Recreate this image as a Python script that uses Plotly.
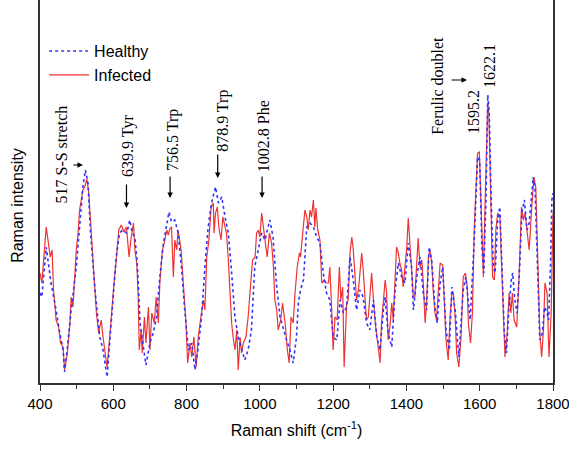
import plotly.graph_objects as go

# Infected (red, solid)
wn_infected = [400, 405, 417, 424, 428, 433, 437, 444, 451, 456, 463, 467, 474, 481, 485, 490, 495, 499, 504, 508,
               517, 522, 528, 533, 540, 547, 554, 560, 567, 572, 577, 583, 588, 595, 602, 608, 615, 622, 629, 636,
               639, 643, 648, 655, 659, 664, 668, 671, 676, 679, 685, 689, 696, 700, 705, 712, 717, 723, 727, 734,
               739, 746, 750, 755, 759, 764, 768, 773, 777, 785, 791, 798, 803, 809, 814, 820, 826, 832, 839, 846,
               850, 855, 861, 867, 873, 875, 879, 884, 888, 894, 899, 903, 909, 914, 919, 923, 928, 932, 937, 941,
               946, 950, 955, 962, 968, 975, 980, 987, 991, 996, 1000, 1005, 1009, 1014, 1020, 1026, 1032, 1037,
               1041, 1046, 1050, 1057, 1062, 1069, 1075, 1080, 1085, 1091, 1096, 1102, 1108, 1111, 1116, 1123,
               1128, 1132, 1137, 1141, 1146, 1150, 1153, 1158, 1164, 1169, 1176, 1180, 1187, 1191, 1196, 1200,
               1205, 1211, 1217, 1221, 1226, 1230, 1237, 1241, 1246, 1251, 1255, 1260, 1264, 1269, 1278, 1282,
               1287, 1291, 1296, 1301, 1305, 1310, 1316, 1323, 1328, 1332, 1337, 1342, 1346, 1350, 1355, 1360,
               1364, 1369, 1373, 1378, 1382, 1387, 1391, 1396, 1401, 1405, 1410, 1414, 1419, 1423, 1428, 1432,
               1437, 1442, 1446, 1451, 1455, 1460, 1464, 1469, 1473, 1478, 1482, 1487, 1492, 1499, 1503, 1508,
               1514, 1519, 1524, 1528, 1533, 1537, 1543, 1549, 1555, 1561, 1566, 1569, 1575, 1580, 1585, 1590,
               1594, 1599, 1603, 1610, 1614, 1619, 1622, 1625, 1630, 1635, 1640, 1644, 1649, 1655, 1660, 1664,
               1669, 1675, 1680, 1685, 1689, 1694, 1701, 1707, 1714, 1719, 1724, 1731, 1735, 1742, 1748, 1753,
               1758, 1764, 1769, 1774, 1778, 1784, 1789, 1795, 1800]
int_infected = [110, 100, 156, 136, 126, 133, 93, 63, 56, 40, 36, 13, 28, 56, 86, 76, 113, 133, 150, 173,
                193, 196, 204, 190, 150, 106, 70, 50, 63, 46, 33, 16, 36, 73, 100, 123, 153, 158, 151, 156,
                146, 126, 143, 160, 133, 120, 86, 33, 53, 30, 66, 40, 76, 33, 70, 60, 86, 60, 100, 133,
                140, 153, 148, 155, 156, 106, 143, 133, 153, 133, 100, 63, 20, 40, 26, 46, 16, 46, 66, 83,
                73, 126, 143, 176, 180, 150, 170, 176, 156, 143, 166, 160, 150, 123, 90, 60, 43, 33, 53, 13,
                46, 30, 40, 46, 66, 96, 123, 126, 150, 153, 146, 170, 156, 143, 126, 150, 140, 116,
                83, 73, 53, 63, 80, 60, 33, 20, 66, 60, 90, 116, 130, 126, 146, 173,
                166, 153, 173, 166, 183, 156, 175, 153, 143, 100, 103, 100, 100, 116, 73, 33,
                66, 63, 116, 83, 96, 16, 80, 83, 130, 146, 133, 106, 83, 93, 130, 113,
                86, 63, 66, 86, 110, 83, 56, 36, 20, 60, 83, 103, 90, 43, 56, 80,
                63, 106, 136, 130, 120, 113, 96, 116, 136, 165, 133, 106, 86, 86, 123, 145,
                116, 123, 100, 60, 80, 126, 133, 120, 93, 70, 63, 90, 120, 118, 80, 43,
                23, 66, 90, 90, 66, 30, 16, 46, 106, 110, 96, 60, 40, 70, 153, 203,
                230, 231, 176, 106, 170, 253, 280, 270, 186, 106, 103, 153, 170, 166, 116, 70,
                26, 50, 90, 70, 90, 63, 56, 103, 176, 163, 170, 146, 133, 176, 206, 196,
                120, 50, 26, 53, 100, 90, 26, 70, 170]

# Healthy (blue, dotted)
wn_healthy = [400, 405, 417, 430, 444, 451, 463, 467, 474, 485, 499, 508, 517, 524, 531, 538, 550, 563, 572, 583,
              590, 599, 608, 617, 626, 636, 639, 645, 652, 659, 666, 673, 682, 689, 700, 709, 718, 727, 737, 746,
              752, 759, 768, 777, 786, 795, 805, 814, 823, 832, 841, 850, 859, 868, 879, 887, 896, 905, 914, 923,
              932, 941, 950, 959, 968, 977, 986, 996, 1005, 1014, 1027, 1036, 1045, 1055, 1064, 1073, 1082, 1091,
              1100, 1105, 1111, 1119, 1128, 1137, 1146, 1155, 1164, 1173, 1182, 1191, 1200, 1210, 1219, 1228,
              1237, 1246, 1255, 1264, 1273, 1282, 1291, 1300, 1310, 1319, 1328, 1337, 1342, 1350, 1360, 1369,
              1378, 1387, 1396, 1405, 1414, 1419, 1428, 1437, 1446, 1455, 1462, 1469, 1478, 1484, 1492, 1499,
              1508, 1517, 1524, 1533, 1543, 1555, 1562, 1571, 1574, 1585, 1594, 1600, 1606, 1611, 1617, 1622,
              1626, 1631, 1637, 1642, 1649, 1655, 1661, 1667, 1673, 1679, 1686, 1690, 1695, 1702, 1709, 1715,
              1722, 1729, 1735, 1742, 1746, 1751, 1757, 1764, 1771, 1777, 1784, 1788, 1793, 1797, 1800]
int_healthy = [90, 86, 136, 100, 73, 56, 33, 11, 33, 73, 116, 160, 196, 213, 200, 150, 93, 46, 33, 6,
               40, 90, 126, 150, 153, 150, 153, 163, 150, 146, 116, 60, 33, 18, 40, 50, 66, 106, 140, 161,
               171, 161, 163, 150, 116, 73, 33, 40, 13, 36, 66, 116, 156, 180, 196, 180, 186, 166, 150, 110,
               66, 46, 33, 23, 33, 53, 116, 133, 150, 143, 163, 146, 100, 66, 53, 43, 33, 20,
               46, 80, 93, 103, 156, 160, 156, 146, 140, 110, 90, 83, 46, 43, 83, 70,
               76, 126, 103, 73, 93, 86, 60, 53, 83, 46, 33, 73, 86, 50, 36, 93,
               120, 106, 100, 140, 116, 73, 106, 126, 90, 73, 136, 123, 73, 60, 100, 116,
               53, 33, 96, 73, 26, 93, 106, 76, 63, 143, 226, 223, 136, 110, 183, 288,
               270, 186, 116, 110, 163, 176, 116, 50, 30, 70, 103, 110, 86, 70, 116, 170,
               183, 153, 160, 190, 206, 193, 116, 43, 50, 76, 70, 63, 116, 183, 190]

x_ticks = [400, 600, 800, 1000, 1200, 1400, 1600, 1800]

peak_labels = ["517 S-S stretch", "639.9 Tyr", "756.5 Trp", "878.9 Trp", "1002.8 Phe",
               "Ferulic doublet", "1595.2", "1622.1"]
label_x = [456, 640, 763, 899, 1009, 1483, 1582, 1625]
label_y = [228, 237, 243, 262, 247, 297, 271, 317]

# arrows: (tip x, tip y, tail x, tail y)
arrow_tip_x = [517, 636, 755, 885, 1006, 1565]
arrow_tip_y = [218, 175, 185, 205, 185, 303]
arrow_tail_x = [487, 636, 755, 885, 1006, 1519]
arrow_tail_y = [218, 200, 208, 230, 208, 303]

fig = go.Figure()
fig.add_trace(go.Scatter(x=wn_infected, y=int_infected, mode="lines", name="Infected",
                         line=dict(color="#ee3333", width=1.2)))
fig.add_trace(go.Scatter(x=wn_healthy, y=int_healthy, mode="lines", name="Healthy",
                         line=dict(color="#3333ff", width=1.6, dash="dot")))

annotations = []
for t, x, y in zip(peak_labels, label_x, label_y):
    annotations.append(dict(x=x, y=y, xref="x", yref="y", text=t, showarrow=False, textangle=-90,
                            xanchor="center", yanchor="middle",
                            font=dict(family="Liberation Serif", size=16, color="black")))
for tx, ty, sx, sy in zip(arrow_tip_x, arrow_tip_y, arrow_tail_x, arrow_tail_y):
    annotations.append(dict(x=tx, y=ty, ax=sx, ay=sy, xref="x", yref="y", axref="x", ayref="y",
                            text="", showarrow=True, arrowhead=2, arrowsize=0.9, arrowwidth=1.2,
                            arrowcolor="black"))
annotations.append(dict(x=-0.043, y=0.465, xref="paper", yref="paper", text="Raman intensity",
                        showarrow=False, textangle=-90, xanchor="center", yanchor="middle",
                        font=dict(family="Liberation Sans", size=16, color="black")))

fig.update_layout(
    width=569, height=453,
    margin=dict(l=40, r=16, t=0, b=70),
    plot_bgcolor="white", paper_bgcolor="white",
    showlegend=True,
    legend=dict(x=0.008, y=0.911, xanchor="left", yanchor="top", traceorder="reversed",
                font=dict(family="Liberation Sans", size=16, color="black"),
                bgcolor="rgba(0,0,0,0)", tracegroupgap=0, itemwidth=40),
    annotations=annotations,
)
fig.update_xaxes(range=[400, 1800], tickvals=x_ticks, ticks="outside", ticklen=6, tickwidth=1.2,
                 tickcolor="#333", showline=True, linecolor="#333", linewidth=1.5, mirror=False,
                 showgrid=False, zeroline=False, ticklabeloverflow="allow",
                 tickfont=dict(family="Liberation Sans", size=15, color="black"),
                 minor=dict(dtick=100, tick0=400, ticks="outside", ticklen=4, tickcolor="#333"),
                 title=dict(text="Raman shift (cm<sup>-1</sup>)", standoff=14,
                            font=dict(family="Liberation Sans", size=16, color="black")))
fig.update_yaxes(range=[0, 383], showticklabels=False, ticks="", showline=True, linecolor="#333",
                 linewidth=1.5, mirror=True, showgrid=False, zeroline=False)

fig.write_html("out.html", config={"displayModeBar": False},
               post_script="document.body.style.margin='0';document.body.style.overflow='hidden';")
